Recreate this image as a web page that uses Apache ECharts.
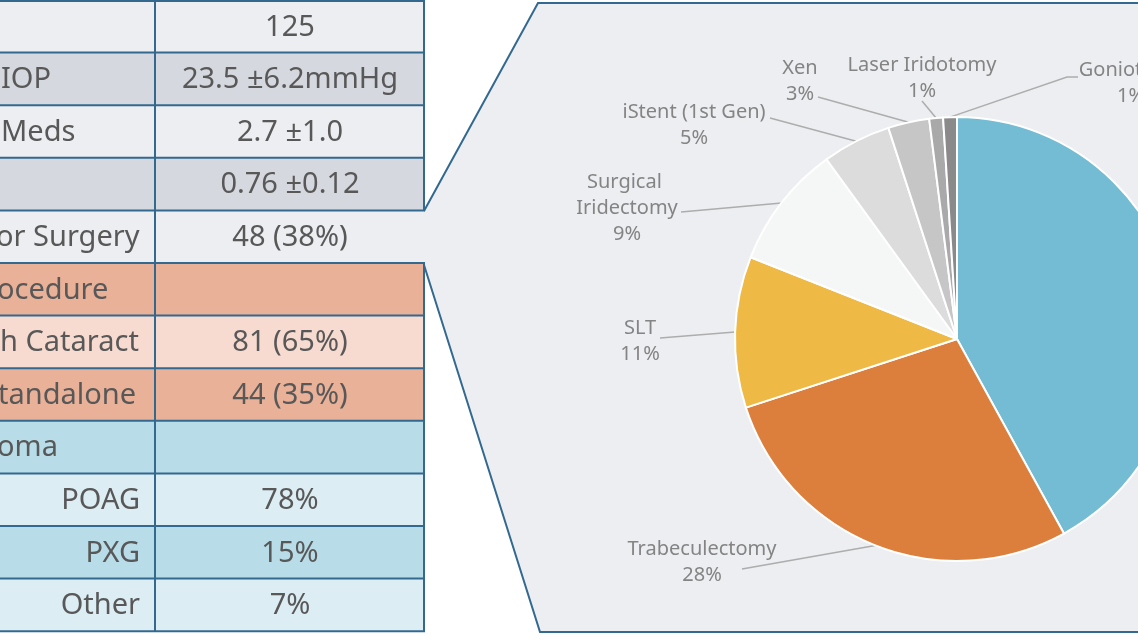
<!DOCTYPE html>
<html><head><meta charset="utf-8">
<script src="https://cdn.jsdelivr.net/npm/echarts@6/dist/echarts.min.js"></script>
<style>html,body{margin:0;padding:0;background:#ffffff}#c{width:1138px;height:640px}</style>
</head><body><div id="c"></div>
<script>
// ---- table data (left column text is cropped in the source image) ----
const rowLabels = ['', 'IOP', 'Meds', '', 'or Surgery', 'ocedure', 'h Cataract', 'tandalone', 'oma', 'POAG', 'PXG', 'Other'];
const rowValues = ['125', '23.5 \u00b16.2mmHg', '2.7 \u00b11.0', '0.76 \u00b10.12', '48 (38%)', '', '81 (65%)', '44 (35%)', '', '78%', '15%', '7%'];

// ---- pie data ----
const sliceNames = ['(label outside crop)', 'Trabeculectomy', 'SLT', 'Surgical Iridectomy', 'iStent (1st Gen)', 'Xen', 'Laser Iridotomy', 'Goniotomy'];
const sliceValues = [42, 28, 11, 9, 5, 3, 1, 1];

// ---- styles / layout ----
const rowFills = ['#eceef1','#d5d8de','#eceef1','#d5d8de','#eceef1','#e9b198','#f7dbd0','#e9b198','#b8dde8','#dcedf4','#b8dde8','#dcedf4'];
const labelAnchorX = [0, 1, 1, 0, -4, -3, 0, -2, -3, 140, 140, 140];
const labelAlign = ['left','left','left','left','left','left','left','left','left','right','right','right'];
const sliceColors = ['#74bcd3','#dc7f3c','#eeb944','#f5f6f6','#dcdcdc','#c6c6c6','#a9a9a9','#8a8a8a'];
const labelCenters = [null, [702,562], [640,341], [627,208], [694,125], [800,81], [922,78], [1131,83]];
const labelLineEnds = [null, [[742,569]], [[660,338]], [[681,212]], [[770,118]], [[818,97]], [[922,101]], [[1067,77],[1078,77]]];

const ROW_TOP = 0, ROW_H = 52.6, COL_X = 155, TABLE_R = 424, VAL_CX = 290;
const LINE = '#33698f';
const TXT = '#585858';
const FONT = '29px "Noto Sans"';

const g = [];
// callout panel
g.push({type:'polygon', shape:{points:[[150,211],[424,211],[538,3],[1140,3],[1140,632],[540,632],[424,265],[150,265]]},
  style:{fill:'#eceef1'}, z:0});
// rows
rowFills.forEach((f,i)=>{
  g.push({type:'rect', shape:{x:-2, y:ROW_TOP+i*ROW_H, width:TABLE_R+2, height:ROW_H}, style:{fill:f}, z:1});
});
// horizontal lines
for (let i=0;i<=rowFills.length;i++){
  const y = ROW_TOP + i*ROW_H + (i===0?1:0);
  g.push({type:'line', shape:{x1:-2,y1:y,x2:TABLE_R+1,y2:y}, style:{stroke:LINE, lineWidth:2}, z:3});
}
// column divider
g.push({type:'line', shape:{x1:COL_X,y1:0,x2:COL_X,y2:ROW_TOP+rowFills.length*ROW_H}, style:{stroke:LINE,lineWidth:2}, z:3});
// right border (except the callout row)
rowFills.forEach((f,i)=>{
  if (i===4) return;
  g.push({type:'line', shape:{x1:TABLE_R,y1:ROW_TOP+i*ROW_H,x2:TABLE_R,y2:ROW_TOP+(i+1)*ROW_H}, style:{stroke:LINE,lineWidth:2}, z:3});
});
// panel border
g.push({type:'polyline', shape:{points:[[424,211],[538,3],[1140,3]]}, style:{stroke:LINE,lineWidth:2,fill:null}, z:3});
g.push({type:'polyline', shape:{points:[[424,265],[540,632],[1140,632]]}, style:{stroke:LINE,lineWidth:2,fill:null}, z:3});
// texts
rowLabels.forEach((t,i)=>{
  if (!t) return;
  g.push({type:'text', x:labelAnchorX[i], y:ROW_TOP+(i+0.5)*ROW_H+1, style:{text:t, font:FONT, fill:TXT, align:labelAlign[i], verticalAlign:'middle'}, z:4});
});
rowValues.forEach((t,i)=>{
  if (!t) return;
  g.push({type:'text', x:VAL_CX, y:ROW_TOP+(i+0.5)*ROW_H+1, style:{text:t, font:FONT, fill:TXT, align:'center', verticalAlign:'middle'}, z:4});
});

const chart = echarts.init(document.getElementById('c'), null, {renderer:'canvas'});
chart.setOption({
  backgroundColor:'#ffffff',
  animation:false,
  graphic:{elements:g},
  series:[{
    type:'pie',
    center:[957,339],
    radius:222,
    startAngle:90,
    clockwise:true,
    z:5,
    itemStyle:{borderColor:'#ffffff', borderWidth:2},
    label:{
      show:true, position:'outside',
      fontFamily:'Noto Sans', fontSize:20, lineHeight:26, color:'#848484', align:'center',
      width:165, overflow:'break',
      formatter:p=>p.name+'\n'+p.percent+'%'
    },
    labelLine:{show:true, length:10, length2:10, lineStyle:{color:'#adadad', width:1.5}},
    labelLayout:function(p){
      const c = labelCenters[p.dataIndex];
      if (!c) return {};
      const a = p.labelLinePoints ? p.labelLinePoints[0] : null;
      const out = {x:c[0], y:c[1], align:'center', verticalAlign:'middle'};
      if (a) out.labelLinePoints = [a].concat(labelLineEnds[p.dataIndex]);
      return out;
    },
    data: sliceValues.map((v,i)=>({
      name:sliceNames[i], value:v,
      itemStyle:{color:sliceColors[i]},
      label: i===0 ? {show:false} : undefined,
      labelLine: i===0 ? {show:false} : undefined
    }))
  }]
});
</script></body></html>
